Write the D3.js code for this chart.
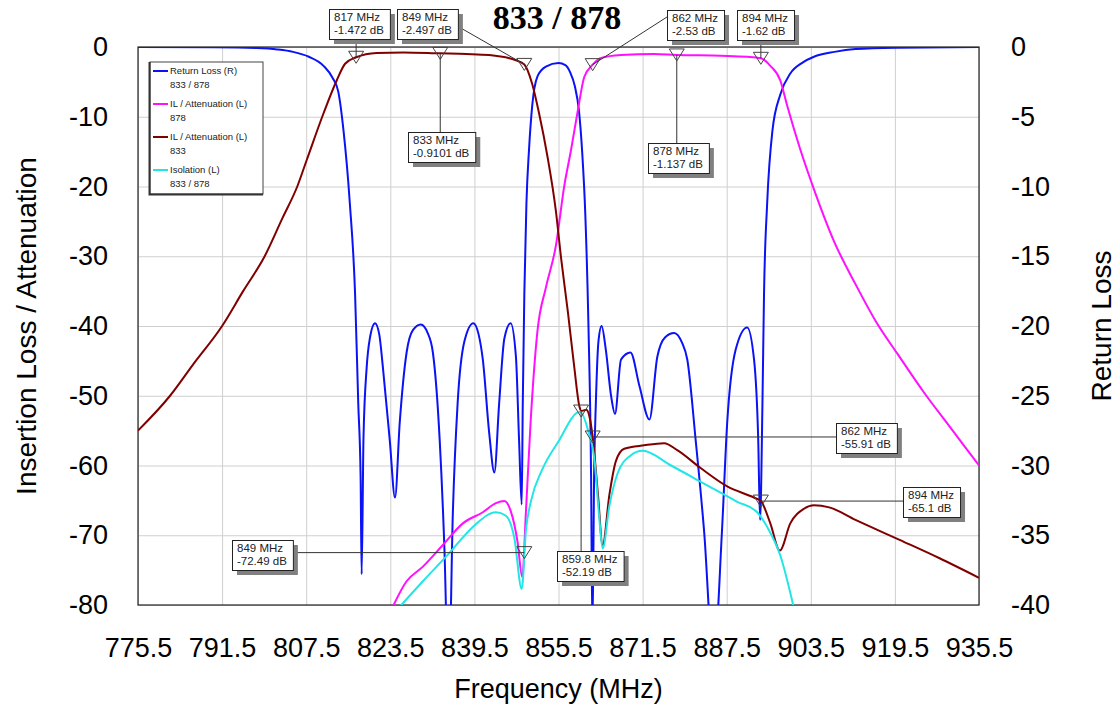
<!DOCTYPE html>
<html lang="en">
<head>
<meta charset="UTF-8"/>
<title>833 / 878</title>
<script src="https://d3js.org/d3.v7.min.js"></script>
<style>
  body { margin: 0; background: #fff; }
  .grid line { stroke: #cfcfcf; stroke-width: 1px; }
  .grid path { display: none; }
  .tick-labels path, .tick-labels line { display: none; }
  .tick-labels text { font-family: "Liberation Sans", Arial, sans-serif; font-size: 27px; fill: #000; }
  .trace { fill: none; stroke-width: 2px; }
  .mbox text { font-family: "Liberation Sans", Arial, sans-serif; font-size: 11.5px; fill: #222; }
  .legend text { font-family: "Liberation Sans", Arial, sans-serif; font-size: 9.5px; fill: #222; }
</style>
</head>
<body>
<script>
    var w = 1118;
    var h = 708;
    var margin = {left: 138, right: 139, top: 47, bottom: 103};

    // x ticks (MHz), left axis ticks (dB), right axis ticks (dB)
    var freqTicks = [775.5, 791.5, 807.5, 823.5, 839.5, 855.5, 871.5, 887.5, 903.5, 919.5, 935.5];
    var leftTicks = [0, -10, -20, -30, -40, -50, -60, -70, -80];
    var rightTicks = [0, -5, -10, -15, -20, -25, -30, -35, -40];

    // Return Loss (R) 833 / 878  [MHz, dB] - right axis
    var returnLoss = [
        [775.5, 0], [790, -0.02], [798, -0.08], [802, -0.18], [805, -0.35], [808, -0.7],
        [810.8, -1.35], [812.5, -2.2], [813.6, -3.2], [814.6, -6.0], [815.8, -11.2], [816.8, -17.7],
        [817.4, -25.5], [817.85, -30.8], [818.05, -37.8], [818.4, -28], [819.0, -23], [819.6, -20.9],
        [820.6, -19.8], [821.4, -20.6], [822.1, -23], [823.4, -28.2], [824.4, -32.3], [825.3, -26.9],
        [826.6, -21.9], [827.8, -20.3], [829.3, -19.9], [830.6, -20.5], [831.6, -21.9], [832.9, -28.2],
        [833.8, -36], [834.6, -46], [835.4, -33.4], [836.3, -25.6], [837.6, -21.1], [839.3, -19.8],
        [840.3, -20.6], [841.1, -22.4], [842.3, -27.6], [843.3, -30.5], [844.2, -25.6], [845.2, -20.9],
        [846.4, -19.8], [847.4, -22.2], [848.0, -28.2], [848.5, -32.8], [848.7, -25.6], [849.0, -17.7],
        [849.4, -11.2], [849.9, -7.3], [850.5, -4.2], [851.5, -2.1], [853.1, -1.4], [855.5, -1.15],
        [856.8, -1.3], [857.7, -1.8], [858.6, -2.8], [859.4, -4.6], [860.0, -7.5], [860.6, -12],
        [861.2, -20], [861.7, -30.8], [861.95, -42], [862.3, -30], [862.6, -25.6], [863.1, -21.1], [863.7, -20],
        [864.5, -21.7], [865.5, -25], [866.25, -26.3], [867.4, -22.4], [869.2, -21.9], [870.9, -24.3],
        [872.8, -26.7], [874.3, -22.2], [875.8, -20.8], [877.5, -20.5], [879, -21.2], [880.0, -22.4],
        [881.6, -28.2], [883.2, -34.7], [885.0, -44], [886.6, -34.7], [887.6, -26.9], [889.2, -21.7],
        [891.4, -20.1], [892.7, -22.4], [893.5, -28.2], [893.85, -33.9], [894.3, -25.6], [894.6, -17.7],
        [895.2, -11.2], [896.2, -6.0], [897.7, -3.4], [899.6, -1.9], [902, -1.1], [904.1, -0.7],
        [908, -0.35], [912, -0.15], [920, -0.05], [935.5, 0]
    ];

    // IL / Attenuation (L) 878
    var il878 = [
        [823.5, -81], [826.6, -76.6], [829.7, -74.5], [833.5, -71.4], [837.3, -68.3], [841.1, -66.7],
        [843.6, -65.4], [845.2, -65.1], [846.4, -66.5], [847.7, -70.9], [848.6, -76], [849.3, -66.7],
        [850.2, -53.7], [851.5, -40.7], [853.1, -34.5], [855, -28.5], [856.6, -19.9], [857.9, -14.7],
        [859.2, -9], [860.4, -4.3], [862, -2.53], [863.6, -1.56], [867.4, -1.15], [873.7, -1.0],
        [878, -1.137], [886.4, -1.25], [891.4, -1.4], [894, -1.62], [895.8, -2.7], [897.7, -4.8],
        [899, -8.4], [901.5, -14.7], [904.1, -20.4], [908, -28], [912, -34], [916, -39.5],
        [920, -44], [925, -49.5], [930, -54.5], [935.5, -60]
    ];

    // IL / Attenuation (L) 833
    var il833 = [
        [775.5, -55], [781.6, -50], [786, -45.5], [791.5, -40], [795.5, -35], [799.6, -30],
        [803, -24.5], [805.8, -20], [807.6, -16.2], [810.8, -9.5], [813.3, -4.8], [814.9, -2.4],
        [817, -1.472], [820.9, -0.85], [826, -0.78], [833, -0.9101], [838, -1.0], [842.3, -1.15],
        [847.4, -1.9], [849, -2.497], [850.5, -5.3], [851.8, -9.5], [853.4, -15.7], [855, -23.5],
        [856, -30.3], [857.3, -38.1], [858.5, -45.9], [859.5, -51.6], [859.8, -52.19], [860.8, -52.0],
        [861.4, -53], [862, -55.91], [863, -64.1], [863.9, -71.4], [865.2, -64.1], [866.4, -59.4],
        [868, -57.6], [871.8, -57.1], [875.6, -56.8], [878.1, -57.8], [882.6, -60.4], [887.6, -63],
        [892.7, -64.6], [894, -65.1], [895.8, -68.3], [897.6, -72.2], [899.6, -68.3], [902.2, -66.2],
        [904.1, -65.7], [907, -66], [912, -67.8], [920.5, -70.7], [928, -73.3], [935.5, -76.1]
    ];

    // Isolation (L) 833 / 878
    var isolation = [
        [825, -80.5], [829.7, -76.6], [834.8, -72.5], [839.2, -68.8], [843.6, -66.7], [845.5, -67.2],
        [847.1, -70.4], [848.5, -77.7], [849.3, -69.3], [850.3, -65], [852.4, -60.6], [855.7, -56.3],
        [858.9, -52.5], [859.6, -52.3], [861.1, -54.9], [862.4, -59.6], [863.2, -67], [863.9, -71.9],
        [865.2, -65.7], [866.8, -61], [869, -58.7], [871.5, -57.9], [876.9, -60], [883.2, -62.6],
        [889.5, -65.2], [893.3, -66.7], [895.2, -68.8], [897.7, -72.9], [900.3, -80.5]
    ];

    // markers: [MHz, dB]
    var markers = [
        [817, -1.472], [849, -2.497], [833, -0.9101], [862, -2.53], [894, -1.62],
        [878, -1.137], [849, -72.49], [859.8, -52.19], [862, -55.91], [894, -65.1]
    ];

    // label box layout for each marker: top-left corner, leader type
    var markerBoxes = [
        {x: 329, y: 9, lead: "v"}, {x: 397, y: 9, lead: "d", ax: 459, ay: 27},
        {x: 408, y: 132, lead: "v"}, {x: 667, y: 10, lead: "d", ax: 667, ay: 17},
        {x: 737, y: 10, lead: "v"}, {x: 648, y: 143, lead: "v"},
        {x: 232, y: 540, lead: "h"}, {x: 557, y: 551, lead: "v"},
        {x: 836, y: 423, lead: "h"}, {x: 903, y: 487, lead: "h"}
    ];

    var series = [
        {name: "Return Loss (R)", sub: "833 / 878", data: returnLoss, color: "#0b12f5", axis: "R"},
        {name: "IL / Attenuation (L)", sub: "878", data: il878, color: "#ff10ff", axis: "L"},
        {name: "IL / Attenuation (L)", sub: "833", data: il833, color: "#800000", axis: "L"},
        {name: "Isolation (L)", sub: "833 / 878", data: isolation, color: "#22e6e6", axis: "L"}
    ];

    var x0 = margin.left, x1 = w - margin.right, y0 = margin.top, y1 = h - margin.bottom;

    var xScale = d3.scaleLinear().domain([775.5, 935.5]).range([x0, x1]);
    var yLeft = d3.scaleLinear().domain([-80, 0]).range([y1, y0]);
    var yRight = d3.scaleLinear().domain([-40, 0]).range([y1, y0]);

    var svg = d3.select("body").append("svg")
        .attr("width", w)
        .attr("height", h);

    svg.append("defs").append("clipPath").attr("id", "plot-clip")
        .append("rect").attr("x", x0).attr("y", y0).attr("width", x1 - x0).attr("height", y1 - y0);

    // grid
    svg.append("g").attr("class", "grid")
        .attr("transform", "translate(0," + y1 + ")")
        .call(d3.axisBottom(xScale).tickValues(freqTicks).tickSize(-(y1 - y0)).tickFormat(""));
    svg.append("g").attr("class", "grid")
        .attr("transform", "translate(" + x0 + ",0)")
        .call(d3.axisLeft(yLeft).tickValues(leftTicks).tickSize(-(x1 - x0)).tickFormat(""));

    // plot border
    svg.append("rect")
        .attr("x", x0).attr("y", y0).attr("width", x1 - x0).attr("height", y1 - y0)
        .attr("fill", "none").attr("stroke", "#222").attr("stroke-width", 1.2);

    // traces
    var plot = svg.append("g").attr("clip-path", "url(#plot-clip)");
    series.forEach(function(s) {
        var yS = s.axis === "R" ? yRight : yLeft;
        var line = d3.line()
            .x(function(d) { return xScale(d[0]); })
            .y(function(d) { return yS(d[1]); })
            .curve(d3.curveMonotoneX);
        plot.append("path")
            .datum(s.data)
            .attr("class", "trace")
            .attr("stroke", s.color)
            .attr("d", line);
    });

    // tick labels (plain hyphen minus like the original)
    var plain = function(d) { return String(d); };
    svg.append("g").attr("class", "tick-labels")
        .attr("transform", "translate(" + x0 + ",0)")
        .call(d3.axisLeft(yLeft).tickValues(leftTicks).tickSize(0).tickPadding(30).tickFormat(plain));
    svg.append("g").attr("class", "tick-labels")
        .attr("transform", "translate(" + x1 + ",0)")
        .call(d3.axisRight(yRight).tickValues(rightTicks).tickSize(0).tickPadding(32).tickFormat(plain));
    svg.append("g").attr("class", "tick-labels")
        .attr("transform", "translate(0," + y1 + ")")
        .call(d3.axisBottom(xScale).tickValues(freqTicks).tickSize(0).tickPadding(33).tickFormat(d3.format(".1f")));

    // axis titles
    var titleFont = "'Liberation Sans', Arial, sans-serif";
    svg.append("text")
        .attr("transform", "translate(36," + ((y0 + y1) / 2) + ") rotate(-90)")
        .attr("text-anchor", "middle")
        .style("font-family", titleFont).style("font-size", "28px")
        .text("Insertion Loss / Attenuation");
    svg.append("text")
        .attr("transform", "translate(1111," + ((y0 + y1) / 2) + ") rotate(-90)")
        .attr("text-anchor", "middle")
        .style("font-family", titleFont).style("font-size", "28px")
        .text("Return Loss");
    svg.append("text")
        .attr("x", (x0 + x1) / 2).attr("y", 698)
        .attr("text-anchor", "middle")
        .style("font-family", titleFont).style("font-size", "27px")
        .text("Frequency (MHz)");
    svg.append("text")
        .attr("x", 557).attr("y", 29)
        .attr("text-anchor", "middle")
        .style("font-family", "'Liberation Serif', 'Times New Roman', serif")
        .style("font-size", "34px").style("font-weight", "bold")
        .text("833 / 878");

    // legend
    var legend = svg.append("g").attr("class", "legend");
    legend.append("rect")
        .attr("x", 150).attr("y", 62).attr("width", 113).attr("height", 132)
        .attr("fill", "#fff").attr("stroke", "#444").attr("stroke-width", 1);
    legend.append("path")
        .attr("d", "M149.5,62 V194.5 H263")
        .attr("fill", "none").attr("stroke", "#333").attr("stroke-width", 2);
    series.forEach(function(s, i) {
        var ly = 74 + i * 33;
        legend.append("line")
            .attr("x1", 153).attr("x2", 168).attr("y1", ly - 3).attr("y2", ly - 3)
            .attr("stroke", s.color).attr("stroke-width", 2);
        legend.append("text").attr("x", 170).attr("y", ly).text(s.name);
        legend.append("text").attr("x", 170).attr("y", ly + 14).text(s.sub);
    });

    // markers
    var mg = svg.append("g");
    markers.forEach(function(m, i) {
        var b = markerBoxes[i];
        var px = xScale(m[0]), py = yLeft(m[1]);
        var g = mg.append("g").attr("class", "mbox");

        var t1 = g.append("text").attr("x", b.x + 5).attr("y", b.y + 12).text(m[0] + " MHz");
        var t2 = g.append("text").attr("x", b.x + 5).attr("y", b.y + 25).text(m[1] + " dB");
        var bw = Math.max(t1.node().getComputedTextLength(), t2.node().getComputedTextLength()) + 11;
        var bh = 30;

        // leader line
        var lx, ly;
        if (b.lead === "v") { lx = px; ly = (b.y > py) ? b.y : b.y + bh; }
        else if (b.lead === "h") { lx = (b.x > px) ? b.x : b.x + bw; ly = py; }
        else { lx = b.ax; ly = b.ay; }
        g.insert("line", "text")
            .attr("x1", px).attr("y1", py).attr("x2", lx).attr("y2", ly)
            .attr("stroke", "#333").attr("stroke-width", 1);

        g.insert("rect", "text")
            .attr("x", b.x + 5).attr("y", b.y + 5).attr("width", bw).attr("height", bh)
            .attr("fill", "#808080");
        g.insert("rect", "text")
            .attr("x", b.x + 0.5).attr("y", b.y + 0.5).attr("width", bw).attr("height", bh)
            .attr("fill", "#fff").attr("stroke", "#222").attr("stroke-width", 1);

        mg.append("path")
            .attr("d", "M" + (px - 7.5) + "," + (py - 6) + " L" + (px + 7.5) + "," + (py - 6) + " L" + px + "," + (py + 6) + " Z")
            .attr("fill", "none").attr("stroke", "#444").attr("stroke-width", 1);
    });
</script>
</body>
</html>
